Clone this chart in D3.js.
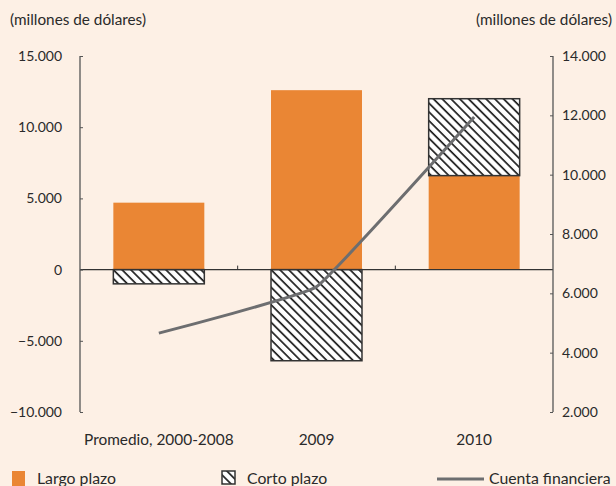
<!DOCTYPE html>
<html>
<head>
<meta charset="utf-8">
<script src="https://cdn.jsdelivr.net/npm/d3@7"></script>
<style>
  html, body { margin: 0; padding: 0; background: #fdf0e5; }
  svg { display: block; }
  text { font-family: Lato, "Open Sans", sans-serif; fill: #2a2a2a; }
</style>
</head>
<body>
<svg id="chart" width="616" height="486"></svg>
<script>
const categories = ["Promedio, 2000-2008", "2009", "2010"];
const largoPlazo = [4700, 12600, 6600];
const cortoPlazo = [-1000, -6400, 5400];
const cuentaFinanciera = [4660, 6220, 11940];
const leftTicks = [-10000, -5000, 0, 5000, 10000, 15000];
const rightTicks = [2000, 4000, 6000, 8000, 10000, 12000, 14000];

const svg = d3.select("#chart");
const plot = { left: 80, right: 553, top: 56, bottom: 412 };

const fmt = d => d3.format(",")(d).replace(/,/g, ".");

const x = d3.scaleBand().domain(categories).range([plot.left, plot.right]).padding(0);
const yL = d3.scaleLinear().domain([-10000, 15000]).range([plot.bottom, plot.top]);
const yR = d3.scaleLinear().domain([2000, 14000]).range([plot.bottom, plot.top]);
const barW = x.bandwidth() * 0.577;
const cx = c => x(c) + x.bandwidth() / 2;

// hatch pattern
const defs = svg.append("defs");
const pat = defs.append("pattern").attr("id", "hatch")
  .attr("patternUnits", "userSpaceOnUse").attr("width", 6.2).attr("height", 6.2)
  .attr("patternTransform", "rotate(-45)");
pat.append("rect").attr("width", 6.2).attr("height", 6.2).attr("fill", "#fff");
pat.append("line").attr("x1", 1).attr("y1", 0).attr("x2", 1).attr("y2", 6.2)
  .attr("stroke", "#1a1a1a").attr("stroke-width", 1.7);

// Largo plazo bars
svg.append("g").selectAll("rect").data(categories).join("rect")
  .attr("x", c => cx(c) - barW / 2)
  .attr("width", barW)
  .attr("y", (c, i) => yL(Math.max(0, largoPlazo[i])))
  .attr("height", (c, i) => Math.abs(yL(largoPlazo[i]) - yL(0)))
  .attr("fill", "#ea8634");

// Corto plazo bars (stacked)
svg.append("g").selectAll("rect").data(categories).join("rect")
  .attr("x", c => cx(c) - barW / 2)
  .attr("width", barW)
  .attr("y", (c, i) => {
    const v = cortoPlazo[i];
    const base = v >= 0 ? Math.max(0, largoPlazo[i]) : 0;
    return v >= 0 ? yL(base + v) : yL(0);
  })
  .attr("height", (c, i) => Math.abs(yL(cortoPlazo[i]) - yL(0)))
  .attr("fill", "url(#hatch)")
  .attr("stroke", "#333").attr("stroke-width", 1.5);

// zero line
svg.append("line").attr("x1", plot.left).attr("x2", plot.right)
  .attr("y1", yL(0)).attr("y2", yL(0)).attr("stroke", "#333").attr("stroke-width", 1.2);
// x ticks at band boundaries
svg.append("g").selectAll("line").data(categories.slice(1)).join("line")
  .attr("x1", c => x(c)).attr("x2", c => x(c))
  .attr("y1", yL(0)).attr("y2", yL(0) - 4)
  .attr("stroke", "#333").attr("stroke-width", 1);

// left axis
const gL = svg.append("g").attr("transform", `translate(${plot.left},0)`)
  .call(d3.axisRight(yL).tickValues(leftTicks).tickSize(3).tickFormat(""));
gL.select(".domain").attr("stroke", "#555").attr("stroke-width", 1.3).attr("d", `M0,${plot.top}V${plot.bottom}`);
gL.selectAll(".tick line").attr("stroke", "#555");
svg.append("g").selectAll("text").data(leftTicks).join("text")
  .attr("x", 62).attr("y", d => yL(d) + 5).attr("text-anchor", "end")
  .attr("font-size", 14).text(fmt);

// right axis
const gR = svg.append("g").attr("transform", `translate(${plot.right},0)`)
  .call(d3.axisLeft(yR).tickValues(rightTicks).tickSize(3).tickFormat(""));
gR.select(".domain").attr("stroke", "#555").attr("stroke-width", 1.3).attr("d", `M0,${plot.top}V${plot.bottom}`);
gR.selectAll(".tick line").attr("stroke", "#555");
svg.append("g").selectAll("text").data(rightTicks).join("text")
  .attr("x", 562).attr("y", d => yR(d) + 5).attr("text-anchor", "start")
  .attr("font-size", 14).text(fmt);

// unit labels
svg.append("text").attr("x", 10).attr("y", 25).attr("font-size", 15.3).text("(millones de dólares)");
svg.append("text").attr("x", 612).attr("y", 25).attr("text-anchor", "end").attr("font-size", 15.3).text("(millones de dólares)");

// category labels
svg.append("g").selectAll("text").data(categories).join("text")
  .attr("x", cx).attr("y", 445).attr("text-anchor", "middle").attr("font-size", 15.4).text(d => d);

// Cuenta financiera line
const line = d3.line().x((d, i) => cx(categories[i])).y(d => yR(d)).curve(d3.curveCardinal.tension(0.75));
svg.append("path").datum(cuentaFinanciera).attr("d", line)
  .attr("fill", "none").attr("stroke", "#6d6e70").attr("stroke-width", 3);

// legend
const ly = 484;
svg.append("rect").attr("x", 12).attr("y", 471).attr("width", 13).attr("height", 16).attr("fill", "#ea8634");
svg.append("text").attr("x", 37).attr("y", ly).attr("font-size", 15.8).text("Largo plazo");
svg.append("rect").attr("x", 222).attr("y", 471).attr("width", 13).attr("height", 13)
  .attr("fill", "url(#hatch)").attr("stroke", "#333").attr("stroke-width", 1.5);
svg.append("text").attr("x", 247).attr("y", ly).attr("font-size", 15.8).text("Corto plazo");
svg.append("line").attr("x1", 437).attr("x2", 484).attr("y1", 479).attr("y2", 479)
  .attr("stroke", "#6d6e70").attr("stroke-width", 3);
svg.append("text").attr("x", 489).attr("y", ly).attr("font-size", 15.8).text("Cuenta financiera");
</script>
</body>
</html>
